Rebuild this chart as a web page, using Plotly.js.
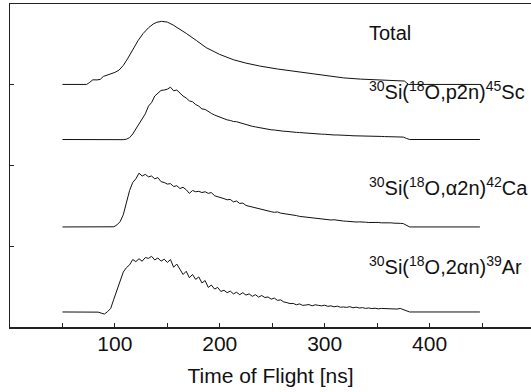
<!DOCTYPE html>
<html>
<head>
<meta charset="utf-8">
<script src="https://cdn.plot.ly/plotly-3.0.1.min.js"></script>
<style>html,body{margin:0;padding:0;background:#fff;}#chart{width:531px;height:392px;}</style>
</head>
<body>
<div id="chart"></div>
<script>
// Time of flight [ns]
const totalX = [50, 73, 76, 79, 83, 86, 89, 94, 100, 104, 108, 112, 117.5, 122, 127, 132, 136.5, 140, 144.5, 150, 155.6, 162, 168, 178, 187, 200, 213, 225, 238, 255, 270, 286, 302, 318, 334, 355, 372, 376, 380, 448];
const totalY = [3.004, 3.004, 3.030, 3.061, 3.060, 3.066, 3.103, 3.122, 3.153, 3.182, 3.239, 3.320, 3.450, 3.545, 3.636, 3.705, 3.752, 3.774, 3.785, 3.776, 3.739, 3.690, 3.636, 3.545, 3.460, 3.375, 3.310, 3.268, 3.232, 3.195, 3.168, 3.135, 3.105, 3.085, 3.070, 3.058, 3.050, 3.046, 3.004, 3.004];

const gridX = [50, 84, 87, 90, 93, 96, 99, 102, 105, 108, 111, 114, 117, 120, 123, 126, 129, 132, 135, 138, 141, 144, 147, 150, 153, 156, 159, 162, 165, 168, 171, 174, 177, 180, 183, 186, 189, 192, 195, 198, 201, 204, 207, 210, 213, 216, 219, 222, 225, 228, 231, 234, 237, 240, 243, 246, 249, 252, 255, 258, 261, 264, 267, 270, 273, 276, 279, 282, 285, 288, 291, 294, 297, 300, 303, 306, 309, 312, 315, 318, 321, 324, 327, 330, 333, 336, 339, 342, 345, 348, 351, 354, 357, 360, 363, 366, 369, 372, 375, 378, 381, 448];

const p2nY = [2.322, 2.320, 2.324, 2.318, 2.316, 2.322, 2.320, 2.318, 2.322, 2.320, 2.326, 2.345, 2.390, 2.450, 2.505, 2.575, 2.640, 2.735, 2.780, 2.860, 2.900, 2.930, 2.935, 2.945, 2.970, 2.925, 2.935, 2.895, 2.860, 2.835, 2.800, 2.790, 2.755, 2.735, 2.700, 2.695, 2.665, 2.645, 2.625, 2.610, 2.590, 2.580, 2.565, 2.558, 2.545, 2.542, 2.530, 2.518, 2.500, 2.497, 2.485, 2.478, 2.470, 2.465, 2.455, 2.450, 2.442, 2.440, 2.432, 2.430, 2.424, 2.422, 2.416, 2.414, 2.410, 2.408, 2.404, 2.402, 2.398, 2.397, 2.392, 2.392, 2.388, 2.387, 2.382, 2.382, 2.378, 2.378, 2.374, 2.374, 2.371, 2.371, 2.368, 2.368, 2.366, 2.366, 2.364, 2.364, 2.362, 2.362, 2.360, 2.360, 2.358, 2.358, 2.357, 2.357, 2.355, 2.355, 2.352, 2.335, 2.322, 2.322];

const a2nY = [1.239, 1.239, 1.237, 1.239, 1.236, 1.239, 1.241, 1.265, 1.305, 1.390, 1.530, 1.690, 1.790, 1.835, 1.905, 1.870, 1.890, 1.860, 1.870, 1.835, 1.850, 1.800, 1.790, 1.770, 1.775, 1.740, 1.750, 1.715, 1.730, 1.700, 1.655, 1.690, 1.675, 1.680, 1.665, 1.675, 1.655, 1.665, 1.625, 1.615, 1.600, 1.590, 1.575, 1.580, 1.550, 1.560, 1.530, 1.535, 1.505, 1.495, 1.480, 1.470, 1.460, 1.450, 1.440, 1.430, 1.428, 1.420, 1.425, 1.410, 1.405, 1.395, 1.398, 1.385, 1.380, 1.370, 1.365, 1.360, 1.355, 1.350, 1.352, 1.342, 1.340, 1.335, 1.333, 1.325, 1.328, 1.320, 1.318, 1.312, 1.310, 1.305, 1.305, 1.300, 1.302, 1.296, 1.298, 1.294, 1.296, 1.292, 1.295, 1.290, 1.292, 1.288, 1.290, 1.286, 1.288, 1.284, 1.280, 1.262, 1.239, 1.239];

const twoanY = [0.186, 0.184, 0.172, 0.160, 0.190, 0.230, 0.345, 0.465, 0.580, 0.680, 0.735, 0.770, 0.835, 0.810, 0.845, 0.815, 0.860, 0.850, 0.875, 0.830, 0.855, 0.815, 0.840, 0.800, 0.835, 0.740, 0.780, 0.715, 0.650, 0.690, 0.610, 0.650, 0.590, 0.620, 0.545, 0.575, 0.490, 0.520, 0.470, 0.490, 0.440, 0.455, 0.425, 0.445, 0.410, 0.430, 0.400, 0.425, 0.395, 0.410, 0.380, 0.400, 0.370, 0.390, 0.365, 0.372, 0.345, 0.358, 0.330, 0.336, 0.310, 0.302, 0.290, 0.292, 0.275, 0.286, 0.268, 0.272, 0.278, 0.262, 0.275, 0.268, 0.262, 0.270, 0.256, 0.262, 0.250, 0.258, 0.245, 0.248, 0.243, 0.252, 0.238, 0.246, 0.235, 0.240, 0.230, 0.236, 0.228, 0.233, 0.225, 0.230, 0.228, 0.234, 0.224, 0.228, 0.222, 0.230, 0.215, 0.200, 0.186, 0.186];

const labelTexts = ["Total", "<sup>30</sup>Si(<sup>18</sup>O,p2n)<sup>45</sup>Sc", "<sup>30</sup>Si(<sup>18</sup>O,α2n)<sup>42</sup>Ca", "<sup>30</sup>Si(<sup>18</sup>O,2αn)<sup>39</sup>Ar"];
const labelY = [3.64, 2.93, 1.74, 0.765];
const xTickVals = [100, 200, 300, 400];
const xTickText = ["100", "200", "300", "400"];

const lineStyle = {color: '#111', width: 1};
const traces = [
  {x: totalX, y: totalY, mode: 'lines', line: lineStyle, hoverinfo: 'none'},
  {x: gridX, y: p2nY, mode: 'lines', line: lineStyle, hoverinfo: 'none'},
  {x: gridX, y: a2nY, mode: 'lines', line: lineStyle, hoverinfo: 'none'},
  {x: gridX, y: twoanY, mode: 'lines', line: lineStyle, hoverinfo: 'none'}
];

const font = {family: '"Liberation Sans", Arial, sans-serif', size: 20, color: '#111'};
const axisFont = {family: '"Liberation Sans", Arial, sans-serif', size: 21, color: '#111'};
const annotations = labelTexts.map((t, i) => ({
  x: 340, y: labelY[i], xref: 'x', yref: 'y', text: t, showarrow: false,
  xanchor: 'left', yanchor: 'middle', font: font
}));

const layout = {
  width: 531, height: 392,
  margin: {l: 10, r: 0, t: 4, b: 65, pad: 0},
  paper_bgcolor: '#fff', plot_bgcolor: '#fff',
  showlegend: false,
  font: font,
  xaxis: {
    range: [0, 496.7], showgrid: false, zeroline: false,
    showline: true, mirror: true, linecolor: '#222', linewidth: 1.5,
    ticks: 'inside', ticklen: 4, tickwidth: 1, tickcolor: '#222',
    tickvals: xTickVals, ticktext: xTickText,
    tickfont: axisFont, ticklabelstandoff: -3,
    minor: {ticks: 'inside', ticklen: 4, tickwidth: 1, tickcolor: '#222', dtick: 50, tick0: 50, showgrid: false},
    title: {text: 'Time of Flight [ns]', font: axisFont, standoff: 14}
  },
  yaxis: {
    range: [0, 4], showgrid: false, zeroline: false,
    showline: true, mirror: false, linecolor: '#222', linewidth: 1.5,
    ticks: 'inside', ticklen: 4, tickwidth: 1, tickcolor: '#222',
    tickvals: [1, 2, 3], showticklabels: false
  },
  annotations: annotations
};

Plotly.newPlot('chart', traces, layout, {staticPlot: true, displayModeBar: false});
</script>
</body>
</html>
